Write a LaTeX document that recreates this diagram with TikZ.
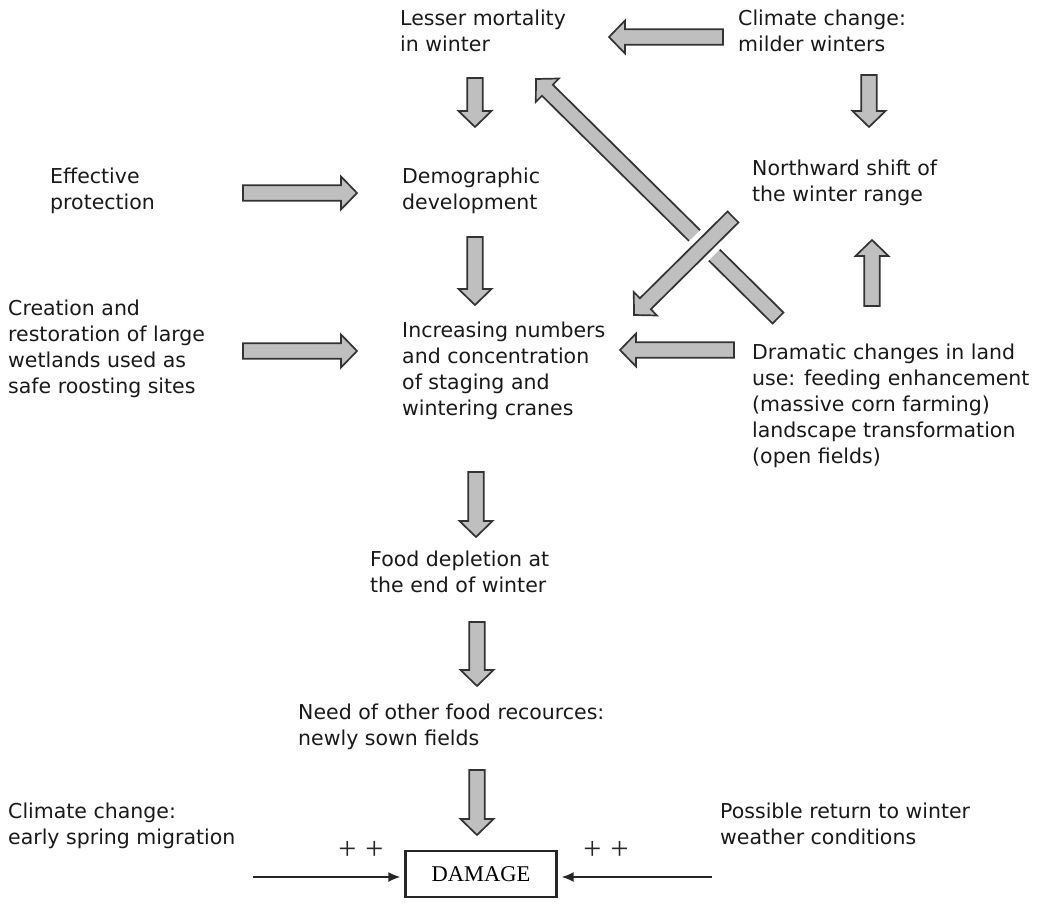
\documentclass[tikz,border=0pt]{standalone}
\usepackage{fontspec}
\setmainfont{DejaVu Sans}
\newfontfamily\boxfont{Liberation Serif}
\usetikzlibrary{calc,arrows.meta}

\tikzstyle{txt}=[anchor=north west,align=left,inner sep=0pt,text=black!90,font=\fontsize{20.5}{26}\selectfont]
\tikzstyle{bigarrow} = [draw=black!80,fill=black!25,line width=1.7pt,line join=miter]
\tikzstyle{smallarrow} = [draw=black!85,line width=1.5pt,-{Latex[length=12pt,width=10pt]},shorten >=4pt]
\tikzstyle{plus} = [inner sep=0pt,text=black!85,font=\boxfont\fontsize{32}{32}\selectfont]

% fat block arrow from tail #2 to tip #3
\newcommand{\fatarrow}[3][]{%
  \path ($(#3)!16pt!(#2)$) coordinate (hb);
  \path[bigarrow,#1] ($(#2)!7.75pt!90:(#3)$) -- ($(hb)!7.75pt!-90:(#2)$)
    -- ($(hb)!16.5pt!-90:(#2)$) -- (#3) -- ($(hb)!16.5pt!90:(#2)$)
    -- ($(hb)!7.75pt!90:(#2)$) -- ($(#2)!7.75pt!-90:(#3)$) -- cycle;}

\begin{document}
\begin{tikzpicture}[x=1pt,y=-1pt]
    \useasboundingbox (0,0) rectangle (1048,905);
    % arrow ends
    \coordinate (a1) at (723,37);  \coordinate (a2) at (609,37);
    \coordinate (b1) at (475,78);  \coordinate (b2) at (475,127);
    \coordinate (c1) at (869,75);  \coordinate (c2) at (869,127);
    \coordinate (d1) at (243,193); \coordinate (d2) at (357,193);
    \coordinate (e1) at (475,237); \coordinate (e2) at (475,305);
    \coordinate (f1) at (243,351); \coordinate (f2) at (357,351);
    \coordinate (g1) at (734,350); \coordinate (g2) at (620,350);
    \coordinate (h1) at (872,306); \coordinate (h2) at (872,240);
    \coordinate (i1) at (778,318); \coordinate (i2) at (536,79);
    \coordinate (j1) at (733,217); \coordinate (j2) at (634,315);
    \coordinate (k1) at (476,472); \coordinate (k2) at (476,537);
    \coordinate (l1) at (477,622); \coordinate (l2) at (477,686);
    \coordinate (m1) at (477,770); \coordinate (m2) at (477,835);
    % the fat arrows
    \foreach \source/\dest in {a1/a2, b1/b2, c1/c2, d1/d2, e1/e2, f1/f2, g1/g2, h1/h2, i1/i2, k1/k2, l1/l2, m1/m2}
        \fatarrow{\source}{\dest};
    % this one crosses over the other diagonal
    \fatarrow[preaction={draw=white,line width=12pt}]{j1}{j2}

    % the texts
    \node[txt] (lesser) at (400,10) {Lesser mortality\\in winter};
    \node[txt] (milder) at (738,10) {Climate change:\\milder winters};
    \node[txt] (protect) at (50,168) {Effective\\protection};
    \node[txt] (demog) at (402,168) {Demographic\\development};
    \node[txt] (shift) at (752,160) {Northward shift of\\the winter range};
    \node[txt] (wetland) at (8,300) {Creation and\\restoration of large\\wetlands used as\\safe roosting sites};
    \node[txt] (cranes) at (402,322) {Increasing numbers\\and concentration\\of staging and\\wintering cranes};
    \node[txt] (landuse) at (752,344) {Dramatic changes in land\\use: feeding enhancement\\(massive corn farming)\\landscape transformation\\(open fields)};
    \node[txt] (depletion) at (370,551) {Food depletion at\\the end of winter};
    \node[txt] (need) at (298,704) {Need of other food recources:\\newly sown fields};
    \node[txt] (spring) at (8,803) {Climate change:\\early spring migration};
    \node[txt] (weather) at (720,803) {Possible return to winter\\weather conditions};

    \node[draw=black!85,line width=2.4pt,minimum width=151pt,minimum height=46pt,inner sep=0pt,font=\boxfont\fontsize{22.5}{22.5}\selectfont] (damage) at (481,874) {DAMAGE};
    \node[plus] (plusL) at (361,850) {+\kern9pt+};
    \node[plus] (plusR) at (606,850) {+\kern9pt+};

    \coordinate (inL) at (253,877);
    \coordinate (inR) at (712,877);
    \draw[smallarrow] (inL) -- (inL -| damage.west);
    \draw[smallarrow] (inR) -- (inR -| damage.east);
\end{tikzpicture}
\end{document}
